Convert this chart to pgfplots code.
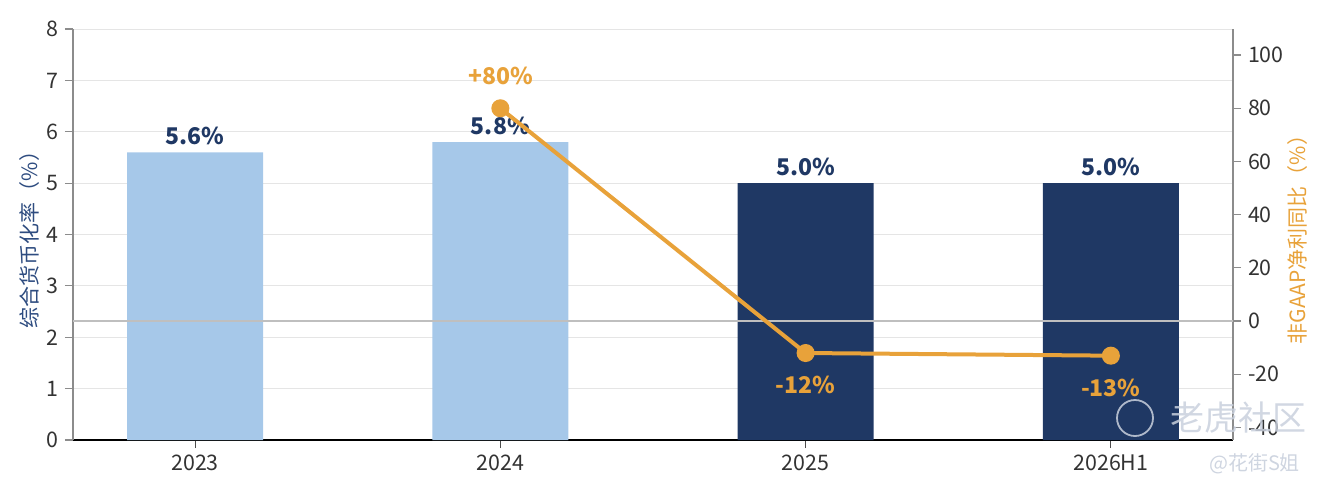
\documentclass[border=0pt]{standalone}
\usepackage{fontspec}
\setmainfont{Noto Sans CJK SC}
\usepackage{pgfplots}
\pgfplotsset{compat=1.18}
\definecolor{lblue}{HTML}{A6C8E9}
\definecolor{navy}{HTML}{1F3864}
\definecolor{orng}{HTML}{E8A23A}
\definecolor{tickc}{HTML}{333333}
\definecolor{ylab}{HTML}{2E4C80}
\definecolor{wm}{HTML}{C9D0DD}
\begin{document}
\begin{tikzpicture}
\useasboundingbox (-36.5pt,-27.5pt) rectangle (628pt,220pt);
\begin{axis}[
  at={(0,0)}, anchor=south west,
  width=580pt, height=205.5pt, scale only axis,
  xmin=-0.4, xmax=3.4, ymin=0, ymax=8,
  axis y line*=left, axis x line*=bottom,
  ytick={0,1,...,8},
  xtick={0,1,2,3}, xticklabels={2023,2024,2025,2026H1},
  ymajorgrids, grid style={color=black!10, line width=0.5pt},
  tick align=outside, major tick length=4pt,
  x axis line style={-, black, line width=0.8pt},
  y axis line style={-, black!45, line width=0.6pt},
  ytick style={black!45, line width=0.6pt},
  xtick style={black!70, line width=0.6pt},
  ticklabel style={font=\fontsize{10.7}{12}\selectfont, text=tickc},
  /pgf/number format/assume math mode=true,
  ylabel={综合货币化率（\%）},
  ylabel style={at={(axis description cs:-0.0371,0.5)}, anchor=center,
    font=\fontsize{10.5}{12}\selectfont, text=ylab},
  clip=false,
]
\addplot[ybar, bar width=68pt, bar shift=0pt, fill=lblue, draw=none,
  nodes near coords, point meta=explicit symbolic,
  nodes near coords style={font=\fontsize{11.5}{13}\bfseries, text=navy}]
  coordinates {(0,5.6)[5.6\%] (1,5.8)[5.8\%]};
\addplot[ybar, bar width=68pt, bar shift=0pt, fill=navy, draw=none,
  nodes near coords, point meta=explicit symbolic,
  nodes near coords style={font=\fontsize{11.5}{13}\bfseries, text=navy}]
  coordinates {(2,5.0)[5.0\%] (3,5.0)[5.0\%]};
\end{axis}
\begin{axis}[
  at={(0,0)}, anchor=south west,
  width=580pt, height=205.5pt, scale only axis,
  xmin=-0.4, xmax=3.4, ymin=-44.7, ymax=109.8,
  axis y line*=right, axis x line=none,
  ytick={-40,-20,...,100},
  tick align=outside, major tick length=4pt,
  y axis line style={-, black!45, line width=0.6pt},
  ytick style={black!45, line width=0.6pt},
  ticklabel style={font=\fontsize{10.7}{12}\selectfont, text=tickc},
  /pgf/number format/assume math mode=true,
  ylabel={非GAAP净利同比（\%）},
  ylabel style={at={(axis description cs:1.0552,0.5)}, anchor=center,
    font=\fontsize{10.5}{12}\selectfont, text=orng},
  clip=false,
]
\draw[black!25, line width=0.8pt] (-0.4,0) -- (3.4,0);
\addplot[orng, line width=2pt, mark=*, mark size=3.5pt, mark options={fill=orng, draw=orng}]
  coordinates {(1,80) (2,-12) (3,-13)};
\addplot[draw=none, mark=none, nodes near coords, point meta=explicit symbolic,
  nodes near coords style={font=\fontsize{11.5}{13}\bfseries, text=orng, anchor=south, yshift=8pt}]
  coordinates {(1,80)[+80\%]};
\addplot[draw=none, mark=none, nodes near coords, point meta=explicit symbolic,
  nodes near coords style={font=\fontsize{11.5}{13}\bfseries, text=orng, anchor=north, yshift=-8pt}]
  coordinates {(2,-12)[-12\%] (3,-13)[-13\%]};
\end{axis}
\draw[wm, opacity=0.85, line width=0.9pt] (531pt,11pt) circle (9pt);
\node[text=wm, opacity=0.85, font=\fontsize{17}{19}\selectfont] at (582.5pt,11pt) {老虎社区};
\node[text=wm, opacity=0.9, font=\fontsize{10}{12}\selectfont] at (617pt,-12pt) [anchor=east] {@花街S姐};
\end{tikzpicture}
\end{document}
